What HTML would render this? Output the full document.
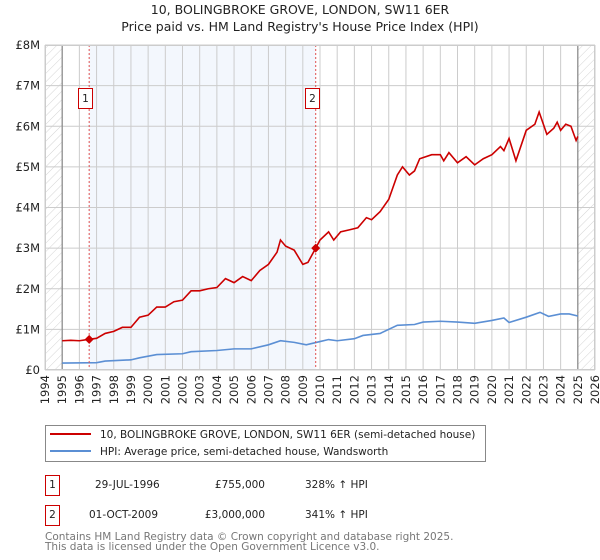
<!DOCTYPE html>
<html><head><meta charset="utf-8"><style>
body{margin:0;background:#fff;font-family:"DejaVu Sans","Liberation Sans",sans-serif}
svg{display:block}
</style></head><body>
<svg id="chart" width="600" height="560" xmlns="http://www.w3.org/2000/svg">
<defs>
<pattern id="hatch" width="6" height="6" patternUnits="userSpaceOnUse" patternTransform="rotate(45)">
<line x1="0" y1="0" x2="0" y2="6" stroke="#d4d4d4" stroke-width="1"/>
</pattern>
</defs>
<text x="300" y="14" text-anchor="middle" font-size="12.5" fill="#222">10, BOLINGBROKE GROVE, LONDON, SW11 6ER</text>
<text x="300" y="31" text-anchor="middle" font-size="12.5" fill="#222">Price paid vs. HM Land Registry's House Price Index (HPI)</text>
<g id="plot"></g>
<g>
<rect x="45.5" y="425.5" width="440" height="36" fill="#fff" stroke="#888"/>
<line x1="50" y1="434" x2="91" y2="434" stroke="#cc0000" stroke-width="2"/>
<text x="100" y="438" font-size="10.5" fill="#222">10, BOLINGBROKE GROVE, LONDON, SW11 6ER (semi-detached house)</text>
<line x1="50" y1="451" x2="91" y2="451" stroke="#5b8fd4" stroke-width="2"/>
<text x="100" y="455" font-size="10.5" fill="#222">HPI: Average price, semi-detached house, Wandsworth</text>
</g>
<g font-size="10.5" fill="#222">
<rect x="45.5" y="475.5" width="14" height="20" fill="#fff" stroke="#cc0000"/>
<text x="52.5" y="488" text-anchor="middle">1</text>
<text x="95" y="488">29-JUL-1996</text>
<text x="265" y="488" text-anchor="end">£755,000</text>
<text x="305" y="488">328% ↑ HPI</text>
<rect x="45.5" y="505.5" width="14" height="20" fill="#fff" stroke="#cc0000"/>
<text x="52.5" y="518" text-anchor="middle">2</text>
<text x="89" y="518">01-OCT-2009</text>
<text x="265" y="518" text-anchor="end">£3,000,000</text>
<text x="305" y="518">341% ↑ HPI</text>
</g>
<text x="45" y="540" font-size="10.5" fill="#777">Contains HM Land Registry data © Crown copyright and database right 2025.</text>
<text x="45" y="550" font-size="10.5" fill="#777">This data is licensed under the Open Government Licence v3.0.</text>
</svg>
<script>
const yTicks=[0,1,2,3,4,5,6,7,8];
const yTickLabels=["£0","£1M","£2M","£3M","£4M","£5M","£6M","£7M","£8M"];
const xYears=[1994,1995,1996,1997,1998,1999,2000,2001,2002,2003,2004,2005,2006,2007,2008,2009,2010,2011,2012,2013,2014,2015,2016,2017,2018,2019,2020,2021,2022,2023,2024,2025,2026];
const propT=[1995,1995.5,1996,1996.57,1997,1997.5,1998,1998.5,1999,1999.5,2000,2000.5,2001,2001.5,2002,2002.5,2003,2003.5,2004,2004.5,2005,2005.5,2006,2006.5,2007,2007.5,2007.7,2008,2008.5,2009,2009.3,2009.75,2010,2010.5,2010.8,2011.2,2011.7,2012.2,2012.7,2013,2013.5,2014,2014.5,2014.8,2015.2,2015.5,2015.8,2016.5,2017,2017.2,2017.5,2018,2018.5,2019,2019.5,2020,2020.5,2020.7,2021,2021.4,2022,2022.5,2022.75,2023.2,2023.6,2023.8,2024,2024.3,2024.6,2024.9,2025];
const propV=[0.72,0.73,0.72,0.755,0.78,0.9,0.95,1.05,1.05,1.3,1.35,1.55,1.55,1.68,1.72,1.95,1.95,2.0,2.03,2.25,2.15,2.3,2.2,2.45,2.6,2.9,3.2,3.05,2.95,2.6,2.65,3.0,3.2,3.4,3.2,3.4,3.45,3.5,3.75,3.7,3.9,4.2,4.8,5.0,4.8,4.9,5.2,5.3,5.3,5.15,5.35,5.1,5.25,5.05,5.2,5.3,5.5,5.4,5.7,5.15,5.9,6.05,6.35,5.8,5.95,6.1,5.9,6.05,6.0,5.65,5.75];
const hpiT=[1995,1997,1997.5,1999,1999.5,2000.5,2002,2002.5,2004,2005,2006,2007,2007.7,2008.5,2009.2,2010,2010.5,2011,2012,2012.5,2013.5,2014.5,2015.5,2016,2017,2018,2019,2020,2020.7,2021,2022,2022.8,2023.3,2024,2024.5,2025];
const hpiV=[0.17,0.18,0.22,0.25,0.3,0.38,0.4,0.45,0.48,0.52,0.52,0.62,0.72,0.68,0.62,0.7,0.75,0.72,0.77,0.85,0.9,1.1,1.12,1.18,1.2,1.18,1.15,1.22,1.28,1.17,1.3,1.42,1.32,1.38,1.38,1.33];
const saleT=[1996.57,2009.75];
const saleV=[0.755,3.0];
const saleLabels=["1","2"];

const L=45,R=595,T=45,B=370;
const x=t=>L+(t-1994)/(2026-1994)*(R-L);
const y=v=>B-v/8*(B-T);
const NS="http://www.w3.org/2000/svg";
const g=document.getElementById('plot');
function mk(tag,attrs,parent){const e=document.createElementNS(NS,tag);for(const k in attrs)e.setAttribute(k,attrs[k]);(parent||g).appendChild(e);return e;}

mk('rect',{x:L,y:T,width:R-L,height:B-T,fill:'#fff'});
const shade=mk('rect',{x:x(saleT[0]),y:T,width:x(saleT[1])-x(saleT[0]),height:B-T,fill:'#eef3fc',opacity:0.7});


const h1=mk('rect',{x:L,y:T,width:x(1995)-L,height:B-T,fill:'url(#hatch)'});


const h2=mk('rect',{x:x(2025),y:T,width:R-x(2025),height:B-T,fill:'url(#hatch)'});



yTicks.forEach((v,i)=>{
  const ln=mk('line',{x1:L,x2:R,y1:y(v),y2:y(v),stroke:'#cccccc','stroke-width':1});
  
  
  const t=mk('text',{x:L-5,y:y(v)+4,'text-anchor':'end','font-size':11.5,fill:'#222'});
  t.textContent=yTickLabels[i];
  
  
});
xYears.forEach(yr=>{
  const ln=mk('line',{x1:x(yr),x2:x(yr),y1:T,y2:B,stroke:'#cccccc','stroke-width':1});
  
  
  const t=mk('text',{x:0,y:0,'text-anchor':'end','font-size':11.5,fill:'#222',transform:`translate(${x(yr)+4},${B+5}) rotate(-90)`});
  t.textContent=yr;
  
  
});
[1995,2025].forEach(yr=>{
  const ln=mk('line',{x1:x(yr),x2:x(yr),y1:T,y2:B,stroke:'#888','stroke-width':1.2});
  
  
});

const hp=mk('polyline',{points:hpiT.map((t,i)=>x(t)+','+y(hpiV[i])).join(' '),fill:'none',stroke:'#5b8fd4','stroke-width':1.6});


const pp=mk('polyline',{points:propT.map((t,i)=>x(t)+','+y(propV[i])).join(' '),fill:'none',stroke:'#cc0000','stroke-width':1.6});



saleT.forEach((t,i)=>{
  const vl=mk('line',{x1:x(t),x2:x(t),y1:T,y2:B,stroke:'#e05050','stroke-width':1,'stroke-dasharray':'2,2'});
  
  
  const s=4.5,cx=x(t),cy=y(saleV[i]);
  const d=mk('polygon',{points:`${cx},${cy-s} ${cx+s},${cy} ${cx},${cy+s} ${cx-s},${cy}`,fill:'#cc0000'});
  
  
  const bx=mk('rect',{x:Math.round(cx-11)+0.5,y:88.5,width:14,height:20,fill:'#fff',stroke:'#cc0000'});
  
  
  const tx=mk('text',{x:Math.round(cx-11)+7.5,y:102,'text-anchor':'middle','font-size':10.5,fill:'#222'});
  tx.textContent=saleLabels[i];
  
  
});
const fr=mk('rect',{x:L+0.5,y:T+0.5,width:R-L-1,height:B-T-1,fill:'none',stroke:'#cccccc'});


</script>
</body></html>
